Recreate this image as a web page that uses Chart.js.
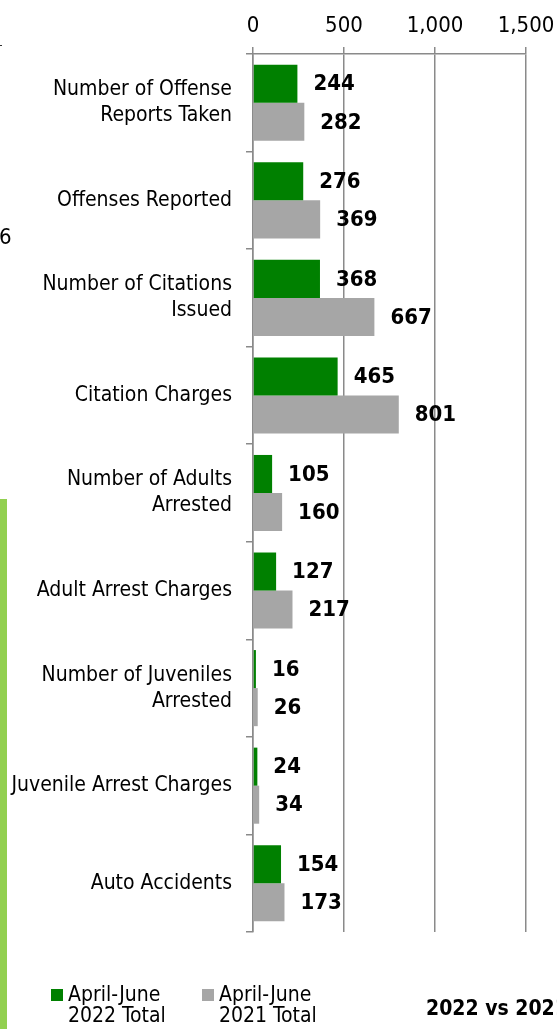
<!DOCTYPE html>
<html>
<head>
<meta charset="utf-8">
<script src="https://cdn.jsdelivr.net/npm/chart.js@4/dist/chart.umd.min.js"></script>
<style>
  html, body { margin: 0; padding: 0; background: #fff; }
  #wrap { position: relative; width: 557px; height: 1029px; overflow: hidden; }
  #c { position: absolute; left: 0; top: 0; }
  .deco { position: absolute; font-family: 'DejaVu Sans Condensed', 'DejaVu Sans', sans-serif; color: #000; white-space: nowrap; }
  #greenStrip { position: absolute; left: 0; top: 499px; width: 7px; height: 530px; background: #92d050; }
  #legend { position: absolute; top: 984px; left: 51px; font-family: 'DejaVu Sans Condensed', 'DejaVu Sans', sans-serif; font-size: 21px; line-height: 21px; color: #000; }
  .li { position: absolute; top: 0; white-space: nowrap; }
  .sw { position: absolute; left: 0; top: 5px; width: 12px; height: 12px; }
  .lt { position: absolute; left: 17px; top: 0; }
</style>
</head>
<body>
<div id="wrap">
  <canvas id="c" width="557" height="1029"></canvas>
  <div id="greenStrip"></div>
  <div class="deco" style="left:-1px; top:224px; font-size:22px;">6</div>
  <div class="deco" style="left:0px; top:45px; width:2px; height:1px; background:#333;"></div>
  <div class="deco" style="left:426px; top:996px; font-size:21px; font-weight:bold;">2022 vs 2021</div>
  <div id="legend"></div>
</div>
<script>
const categories = [
  ["Number of Offense", "Reports Taken"],
  "Offenses Reported",
  ["Number of Citations", "Issued"],
  "Citation Charges",
  ["Number of Adults", "Arrested"],
  "Adult Arrest Charges",
  ["Number of Juveniles", "Arrested"],
  "Juvenile Arrest Charges",
  "Auto Accidents"
];
const seriesNames = [["April-June", "2022 Total"], ["April-June", "2021 Total"]];
const values2022 = [244, 276, 368, 465, 105, 127, 16, 24, 154];
const values2021 = [282, 369, 667, 801, 160, 217, 26, 34, 173];
const xTicks = [0, 500, 1000, 1500];

const GREEN = '#008000';
const GRAY = '#a6a6a6';
const GRID = '#8a8a8a';
const FONT = "'DejaVu Sans Condensed', 'DejaVu Sans', sans-serif";

const valueLabels = {
  id: 'valueLabels',
  afterDatasetsDraw(chart) {
    const ctx = chart.ctx;
    ctx.save();
    ctx.font = "bold 22px " + FONT;
    ctx.fillStyle = '#000';
    ctx.textAlign = 'left';
    ctx.textBaseline = 'middle';
    chart.data.datasets.forEach((ds, di) => {
      const meta = chart.getDatasetMeta(di);
      meta.data.forEach((bar, i) => {
        const v = ds.data[i];
        ctx.fillText(v.toLocaleString('en-US'), bar.x + 16, bar.y + 1);
      });
    });
    ctx.restore();
  }
};

const chart = new Chart(document.getElementById('c'), {
  type: 'bar',
  data: {
    labels: categories,
    datasets: [
      { label: seriesNames[0].join(' '), data: values2022, backgroundColor: GREEN, borderWidth: 0 },
      { label: seriesNames[1].join(' '), data: values2021, backgroundColor: GRAY, borderWidth: 0 }
    ]
  },
  options: {
    indexAxis: 'y',
    responsive: false,
    animation: false,
    devicePixelRatio: 1,
    datasets: { bar: { categoryPercentage: 0.78, barPercentage: 1.0 } },
    layout: { padding: { left: 0, right: 31, top: 0, bottom: 97 } },
    plugins: { legend: { display: false }, tooltip: { enabled: false } },
    scales: {
      x: {
        position: 'top',
        min: xTicks[0],
        max: xTicks[xTicks.length - 1],
        afterBuildTicks(scale) { scale.ticks = xTicks.map(v => ({ value: v })); },
        afterFit(scale) { scale.height = 54; scale.paddingLeft = 0; scale.paddingRight = 0; },
        ticks: {
          font: { family: FONT, size: 22 },
          color: '#000',
          padding: 8,
          callback: v => Number(v).toLocaleString('en-US')
        },
        grid: { color: GRID, lineWidth: 1.5, tickLength: 7, drawOnChartArea: true },
        border: { display: true, color: GRID, width: 1.5 }
      },
      y: {
        afterFit(scale) { scale.width = 253; scale.paddingTop = 0; scale.paddingBottom = 0; },
        ticks: {
          font: { family: FONT, size: 21, lineHeight: 1.24 },
          color: '#000',
          padding: 14
        },
        grid: { offset: true, drawOnChartArea: false, color: GRID, lineWidth: 1.5, tickLength: 7 },
        border: { display: true, color: GRID, width: 1.5 }
      }
    }
  },
  plugins: [valueLabels]
});

// HTML legend built from the datasets
const legend = document.getElementById('legend');
const offsets = [0, 151];
chart.data.datasets.forEach((ds, i) => {
  const item = document.createElement('div');
  item.className = 'li';
  item.style.left = offsets[i] + 'px';
  const sw = document.createElement('div');
  sw.className = 'sw';
  sw.style.background = ds.backgroundColor;
  const t = document.createElement('div');
  t.className = 'lt';
  t.innerHTML = seriesNames[i].join('<br>');
  item.appendChild(sw);
  item.appendChild(t);
  legend.appendChild(item);
});
</script>
</body>
</html>
